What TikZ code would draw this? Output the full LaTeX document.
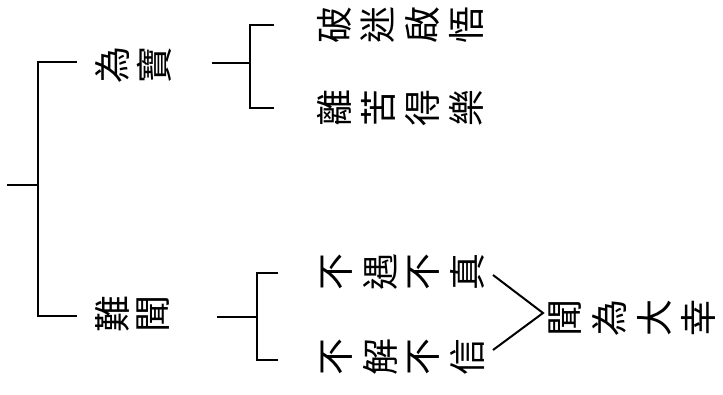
\documentclass[tikz,border=0pt]{standalone}
\usepackage{fontspec}
\newfontfamily\cjk{Noto Sans CJK TC}
\tikzset{
  ch/.style={rotate=90, inner sep=0pt, font=\cjk\fontsize{37}{37}\selectfont},
  ln/.style={line width=2.4pt, line cap=butt, line join=miter}
}
\newcommand\crow[5]{%
  \foreach \c [count=\i] in {#5} {\node[ch] (#1-\i) at ({#2+(\i-1)*#3},#4) {\c};}}
\begin{document}
\begin{tikzpicture}[x=1pt,y=-1pt]
\useasboundingbox (0,0) rectangle (723,394);
% texts
\crow{wb}{112}{42}{65}{為,寶}
\crow{nw}{112}{41}{314}{難,聞}
\crow{pm}{334}{44}{25}{破,迷,啟,悟}
\crow{lk}{334}{44}{108}{離,苦,得,樂}
\crow{by}{337}{43.5}{272}{不,遇,不,真}
\crow{bj}{337}{43.5}{357}{不,解,不,信}
\crow{ww}{565}{44.5}{318}{聞,為,大,幸}
% root bracket
\coordinate (r0) at (7,185);
\coordinate (r1) at (38,185);
\coordinate (rt) at (38,62);
\coordinate (rb) at (38,316);
\coordinate (rte) at (77,62);
\coordinate (rbe) at (77,316);
\draw[ln] (r0) -- (r1);
\draw[ln] (rte) -- (rt) -- (rb) -- (rbe);
% upper bracket
\coordinate (u0) at (212,63);
\coordinate (u1) at (250,63);
\coordinate (ut) at (250,25);
\coordinate (ub) at (250,108);
\coordinate (ute) at (274,25);
\coordinate (ube) at (274,108);
\draw[ln] (u0) -- (u1);
\draw[ln] (ute) -- (ut) -- (ub) -- (ube);
% lower bracket
\coordinate (l0) at (217,317);
\coordinate (l1) at (257,317);
\coordinate (lt) at (257,273);
\coordinate (lb) at (257,360);
\coordinate (lte) at (278,273);
\coordinate (lbe) at (278,360);
\draw[ln] (l0) -- (l1);
\draw[ln] (lte) -- (lt) -- (lb) -- (lbe);
% converging lines
\coordinate (a1) at (493,275);
\coordinate (a2) at (543,313);
\coordinate (a3) at (493,350);
\draw[line width=2pt] (a1) -- (a2) -- (a3);
\end{tikzpicture}
\end{document}
